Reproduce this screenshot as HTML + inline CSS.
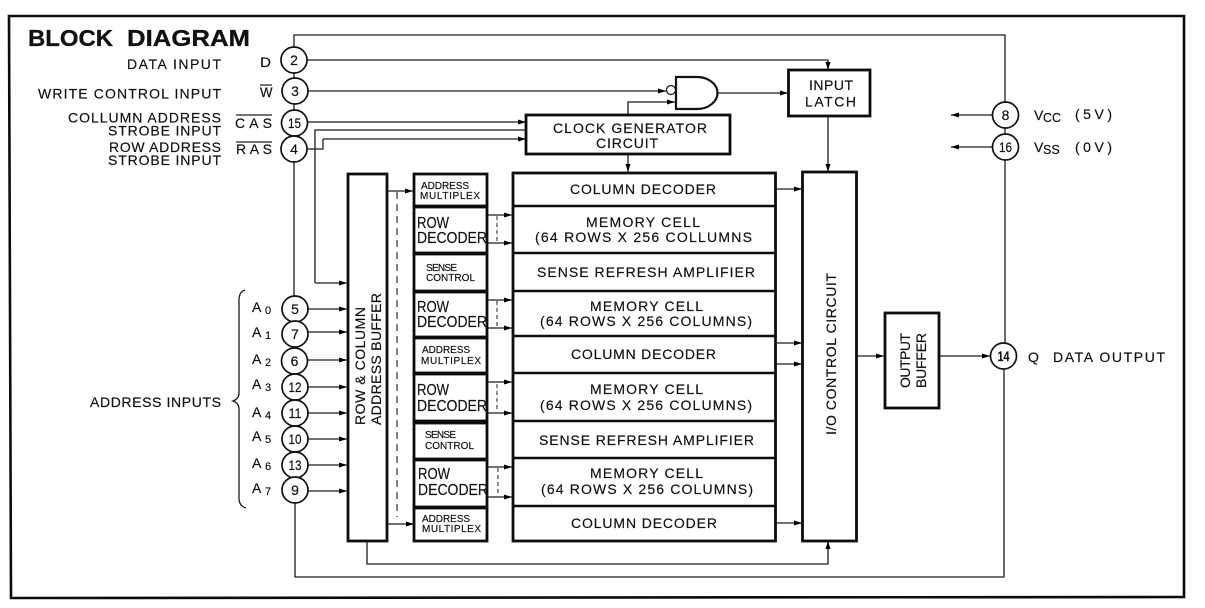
<!DOCTYPE html>
<html><head><meta charset="utf-8"><title>Block Diagram</title>
<style>
html,body{margin:0;padding:0;background:#fff;width:1205px;height:608px;overflow:hidden}
svg{display:block}
text{font-family:"Liberation Sans",sans-serif;fill:#111;font-size:14px;stroke:#111;stroke-width:.18px}
.b{fill:#fff;stroke:#0c0c0c;stroke-width:2.8}
.l{fill:none;stroke:#1c1c1c;stroke-width:1.3}
.a{fill:none;stroke:#1c1c1c;stroke-width:1.3;marker-end:url(#ar)}
.d{fill:none;stroke:#333;stroke-width:1.2;stroke-dasharray:7 5}
.c{fill:#fff;stroke:#111;stroke-width:1.7}
.n{font-size:14px;text-anchor:middle;fill:#111}
.r{font-size:15.5px}
.s{font-size:10px}
.sub{font-size:11px}
</style></head><body>
<svg width="1205" height="608" viewBox="0 0 1205 608" xmlns="http://www.w3.org/2000/svg">
<defs><marker id="ar" markerUnits="userSpaceOnUse" markerWidth="9" markerHeight="8" refX="8" refY="4" orient="auto"><path d="M0,1.500 L8,4 L0,6.500 Z" fill="#000"/></marker></defs>
<rect width="1205" height="608" fill="#fff"/>
<polygon points="9,16 1184,16 1184,597 11,598" fill="none" stroke="#0c0c0c" stroke-width="2.6"/>

<text x="28" y="46" font-weight="bold" style="font-size:23px;stroke-width:.3px" textLength="85" lengthAdjust="spacingAndGlyphs">BLOCK</text>
<text x="127" y="46" font-weight="bold" style="font-size:23px;stroke-width:.3px" textLength="123" lengthAdjust="spacingAndGlyphs">DIAGRAM</text>

<!-- power / return rails -->
<path class="l" d="M294,60 V35 H1005 V356 M1004,356 V577 H295 V490"/>
<path class="l" d="M294,60 V309"/>

<!-- control lines -->
<path class="a" d="M307,60 H828 V70"/>
<path class="a" d="M307,91 H666"/>
<path class="a" d="M307,122 H526"/>
<path class="l" d="M307,149 H323 V139"/>
<path class="a" d="M323,139 H526"/>
<path class="l" d="M526,130 H315 V283"/>
<path class="a" d="M315,283 H347"/>
<path class="a" d="M628,115 V102 H675"/>
<path class="a" d="M718,93 H788"/>
<path class="a" d="M828,116 V172"/>
<path class="a" d="M628,154 V172"/>

<!-- NAND -->
<path d="M676,77 H697 A20.5,16 0 0 1 697,109 H676 Z" fill="#fff" stroke="#111" stroke-width="2.2"/>
<circle cx="671" cy="90" r="4.5" fill="#fff" stroke="#111" stroke-width="1.2"/>

<!-- boxes -->
<rect class="b" x="788.5" y="70" width="81.5" height="46"/>
<rect class="b" x="526" y="115" width="204" height="39"/>
<rect class="b" x="348" y="174" width="39" height="367"/>
<rect class="b" x="414" y="174" width="73" height="32"/>
<rect class="b" x="414" y="207" width="73" height="46"/>
<rect class="b" x="414" y="254" width="73" height="37"/>
<rect class="b" x="414" y="292" width="73" height="45"/>
<rect class="b" x="414" y="338" width="73" height="35"/>
<rect class="b" x="414" y="374" width="73" height="47"/>
<rect class="b" x="414" y="423" width="73" height="36"/>
<rect class="b" x="414" y="460" width="73" height="47"/>
<rect class="b" x="414" y="508" width="73" height="33"/>
<rect class="b" x="513" y="173" width="262.500" height="368"/>
<path d="M513,206 H775 M513,253 H775 M513,291 H775 M513,336 H775 M513,373 H775 M513,421 H775 M513,458 H775 M513,506 H775" stroke="#0c0c0c" stroke-width="2.5" fill="none"/>
<rect class="b" x="802.500" y="172" width="54" height="369"/>
<rect class="b" x="885" y="313" width="54" height="95"/>

<!-- buffer to mux -->
<path class="a" d="M387,191 H413"/>
<path class="a" d="M387,524 H414"/>
<path class="d" d="M397,192 V517"/>
<!-- decoder to memory -->
<path class="a" d="M488,215 H512"/>
<path class="a" d="M488,243 H512"/>
<path class="a" d="M488,300 H512"/>
<path class="a" d="M488,328 H512"/>
<path class="a" d="M488,382 H512"/>
<path class="a" d="M488,413 H512"/>
<path class="a" d="M488,467 H512"/>
<path class="a" d="M488,497 H512"/>
<path d="M497,216 V242 M497,301 V327 M497,384 V412 M498,468 V496" fill="none" stroke="#333" stroke-width="1.1" stroke-dasharray="4 3"/>
<!-- decoder to IO -->
<path class="a" d="M776,189 H802"/>
<path class="a" d="M776,343 H802"/>
<path class="a" d="M776,364 H802"/>
<path class="a" d="M776,523 H802"/>
<path class="a" d="M857,356 H884"/>
<path class="a" d="M939,356 H990"/>
<path class="a" d="M367,541 V564 H828 V541"/>
<!-- power arrows -->
<path class="a" d="M992,115 H951"/>
<path class="a" d="M992,147 H951"/>
<!-- address arrows -->
<path class="a" d="M308,309 H347"/>
<path class="a" d="M308,332 H347"/>
<path class="a" d="M308,360 H347"/>
<path class="a" d="M308,387 H347"/>
<path class="a" d="M308,413 H347"/>
<path class="a" d="M308,439 H347"/>
<path class="a" d="M308,465 H347"/>
<path class="a" d="M308,491 H347"/>

<!-- brace -->
<path class="l" d="M245,290 Q239,292 239,300 V393 Q239,399 233,401 Q239,403 239,409 V498 Q239,506 246,508"/>

<!-- pins -->
<circle class="c" cx="294" cy="60" r="13"/><text class="n" x="294" y="65">2</text>
<circle class="c" cx="295" cy="91" r="13"/><text class="n" x="295" y="96">3</text>
<circle class="c" cx="294.500" cy="123" r="13"/><text class="n" x="294.500" y="128" textLength="13" lengthAdjust="spacingAndGlyphs">15</text>
<circle class="c" cx="294" cy="149" r="13"/><text class="n" x="294" y="154">4</text>
<circle class="c" cx="295" cy="309" r="13"/><text class="n" x="295" y="314">5</text>
<circle class="c" cx="295" cy="334" r="13"/><text class="n" x="295" y="339">7</text>
<circle class="c" cx="294.500" cy="361" r="13"/><text class="n" x="294.500" y="366">6</text>
<circle class="c" cx="295" cy="387" r="13"/><text class="n" x="295" y="392" textLength="13" lengthAdjust="spacingAndGlyphs">12</text>
<circle class="c" cx="295" cy="413" r="13"/><text class="n" x="295" y="418" textLength="13" lengthAdjust="spacingAndGlyphs">11</text>
<circle class="c" cx="295" cy="439" r="13"/><text class="n" x="295" y="444" textLength="13" lengthAdjust="spacingAndGlyphs">10</text>
<circle class="c" cx="295" cy="465" r="13"/><text class="n" x="295" y="470" textLength="13" lengthAdjust="spacingAndGlyphs">13</text>
<circle class="c" cx="295" cy="490" r="13"/><text class="n" x="295" y="495">9</text>
<circle class="c" cx="1005.500" cy="115" r="13"/><text class="n" x="1005.500" y="120">8</text>
<circle class="c" cx="1005.500" cy="147" r="13"/><text class="n" x="1005.500" y="152" textLength="13" lengthAdjust="spacingAndGlyphs">16</text>
<circle class="c" cx="1003.500" cy="356" r="13"/><text class="n" x="1003.500" y="361" textLength="12" lengthAdjust="spacingAndGlyphs" font-weight="bold">14</text>

<!-- left labels -->
<text x="127" y="69" textLength="94">DATA INPUT</text>
<text x="38" y="98.500" textLength="183">WRITE CONTROL INPUT</text>
<text x="68" y="122.500" textLength="153">COLLUMN ADDRESS</text>
<text x="108" y="135.500" textLength="113">STROBE INPUT</text>
<text x="109" y="152" textLength="112">ROW ADDRESS</text>
<text x="108" y="165" textLength="113">STROBE INPUT</text>
<text x="260" y="67" textLength="11" lengthAdjust="spacingAndGlyphs">D</text>
<text x="260" y="97" textLength="12.500" lengthAdjust="spacingAndGlyphs">W</text>
<text x="235" y="128" textLength="37">CAS</text>
<text x="236" y="154" textLength="36">RAS</text>
<path d="M260,85 H272 M236,115 H272 M236,142 H272" stroke="#222" stroke-width="1.2" fill="none"/>
<text x="90" y="407" textLength="131">ADDRESS INPUTS</text>

<text x="252" y="312">A</text><text class="sub" x="265" y="314">0</text>
<text x="252" y="337">A</text><text class="sub" x="265" y="339">1</text>
<text x="252" y="364">A</text><text class="sub" x="265" y="366">2</text>
<text x="252" y="389">A</text><text class="sub" x="265" y="391">3</text>
<text x="252" y="417">A</text><text class="sub" x="265" y="419">4</text>
<text x="252" y="441">A</text><text class="sub" x="265" y="443">5</text>
<text x="252" y="468">A</text><text class="sub" x="265" y="470">6</text>
<text x="252" y="493">A</text><text class="sub" x="265" y="495">7</text>

<!-- right labels -->
<text x="1034" y="120">V</text><text x="1043" y="122" style="font-size:12.500px">CC</text><text x="1075" y="119" textLength="37">(5V)</text>
<text x="1034" y="152">V</text><text x="1043" y="154" style="font-size:12.500px">SS</text><text x="1075" y="152" textLength="37">(0V)</text>
<text x="1028" y="362">Q</text>
<text x="1053" y="362" textLength="112">DATA OUTPUT</text>

<!-- box labels -->
<text x="809" y="90" textLength="44">INPUT</text>
<text x="805" y="106.500" textLength="51">LATCH</text>
<text x="553" y="133" textLength="154">CLOCK GENERATOR</text>
<text x="596" y="148" textLength="62">CIRCUIT</text>

<text x="570" y="194" textLength="146">COLUMN DECODER</text>
<text x="586" y="227" textLength="114">MEMORY CELL</text>
<text x="535" y="242" textLength="217">(64 ROWS X 256 COLLUMNS</text>
<text x="537" y="277" textLength="218">SENSE REFRESH AMPLIFIER</text>
<text x="590" y="311" textLength="113">MEMORY CELL</text>
<text x="540" y="326" textLength="212">(64 ROWS X 256 COLUMNS)</text>
<text x="571" y="359" textLength="145">COLUMN DECODER</text>
<text x="590" y="394" textLength="113">MEMORY CELL</text>
<text x="540" y="410" textLength="212">(64 ROWS X 256 COLUMNS)</text>
<text x="539" y="445" textLength="215">SENSE REFRESH AMPLIFIER</text>
<text x="590" y="478" textLength="113">MEMORY CELL</text>
<text x="541" y="494" textLength="212">(64 ROWS X 256 COLUMNS)</text>
<text x="571" y="528" textLength="146">COLUMN DECODER</text>

<text class="s" x="421" y="189" textLength="48">ADDRESS</text>
<text class="s" x="420" y="199" textLength="60">MULTIPLEX</text>
<text class="r" x="417" y="228" textLength="32" lengthAdjust="spacingAndGlyphs">ROW</text>
<text class="r" x="417" y="243" textLength="70" lengthAdjust="spacingAndGlyphs">DECODER</text>
<text class="s" x="426" y="271" textLength="31">SENSE</text>
<text class="s" x="426" y="281" textLength="49">CONTROL</text>
<text class="r" x="417" y="312" textLength="32" lengthAdjust="spacingAndGlyphs">ROW</text>
<text class="r" x="417" y="327" textLength="70" lengthAdjust="spacingAndGlyphs">DECODER</text>
<text class="s" x="422" y="353" textLength="48">ADDRESS</text>
<text class="s" x="421" y="364" textLength="60">MULTIPLEX</text>
<text class="r" x="417" y="395" textLength="32" lengthAdjust="spacingAndGlyphs">ROW</text>
<text class="r" x="417" y="411" textLength="70" lengthAdjust="spacingAndGlyphs">DECODER</text>
<text class="s" x="425" y="438" textLength="31">SENSE</text>
<text class="s" x="425" y="449" textLength="49">CONTROL</text>
<text class="r" x="418" y="479" textLength="32" lengthAdjust="spacingAndGlyphs">ROW</text>
<text class="r" x="418" y="495" textLength="70" lengthAdjust="spacingAndGlyphs">DECODER</text>
<text class="s" x="422" y="522" textLength="48">ADDRESS</text>
<text class="s" x="422" y="532" textLength="59">MULTIPLEX</text>

<!-- rotated labels -->
<text transform="translate(365,425) rotate(-90)" textLength="118">ROW &amp; COLUMN</text>
<text transform="translate(381,425) rotate(-90)" textLength="132">ADDRESS BUFFER</text>
<text transform="translate(836,435) rotate(-90)" textLength="162">I/O CONTROL CIRCUIT</text>
<text transform="translate(910,388) rotate(-90)" textLength="55">OUTPUT</text>
<text transform="translate(926,388) rotate(-90)" textLength="55">BUFFER</text>
</svg>
</body></html>
